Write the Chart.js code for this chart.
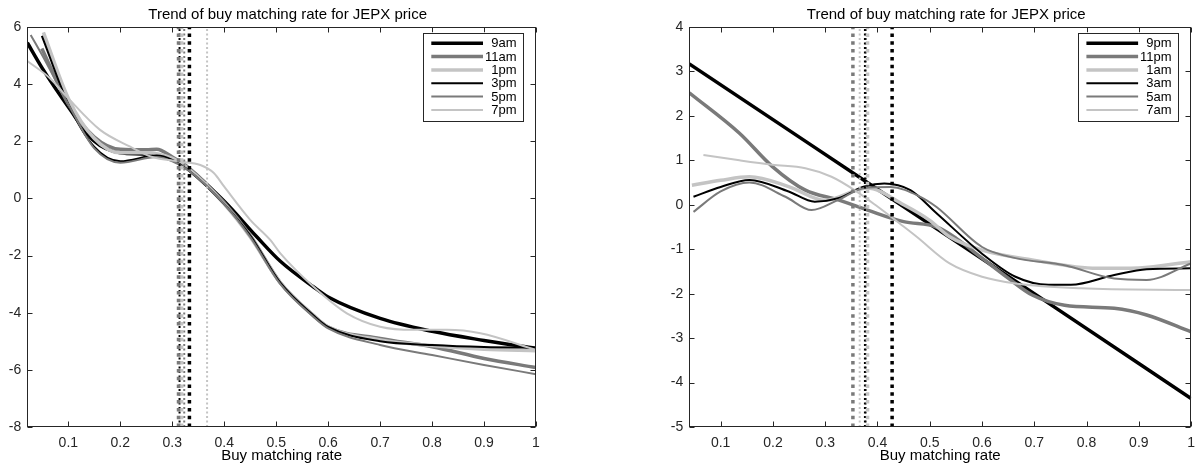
<!DOCTYPE html>
<html>
<head>
<meta charset="utf-8">
<script src="https://cdn.jsdelivr.net/npm/chart.js@4.4.1/dist/chart.umd.min.js"></script>
<style>
  html, body { margin: 0; padding: 0; background: #fff; }
  body { width: 1203px; height: 466px; position: relative; overflow: hidden; }
  .box { position: absolute; top: 0; height: 466px; }
  #leftBox { left: 0; width: 560px; }
  #rightBox { left: 620px; width: 583px; }
</style>
</head>
<body>
<div class="box" id="leftBox"><canvas id="dayChart"></canvas></div>
<div class="box" id="rightBox"><canvas id="nightChart"></canvas></div>
<script>
// text
const titleText = 'Trend of buy matching rate for JEPX price';
const xLabel = 'Buy matching rate';

// ticks
const xTicks = [0.1, 0.2, 0.3, 0.4, 0.5, 0.6, 0.7, 0.8, 0.9, 1];
const dayYTicks = [-8, -6, -4, -2, 0, 2, 4, 6];
const nightYTicks = [-5, -4, -3, -2, -1, 0, 1, 2, 3, 4];

// daytime hours (left panel), [matching rate, price trend]
const dayNames = ['9am', '11am', '1pm', '3pm', '5pm', '7pm'];
const day9am = [[0.021,5.45],[0.05,4.55],[0.1,3.2],[0.15,2.0],[0.2,1.6],[0.25,1.55],[0.3,1.35],[0.33,1.05],[0.4,-0.1],[0.463,-1.35],[0.508,-2.2],[0.572,-3.1],[0.6,-3.45],[0.7,-4.2],[0.8,-4.65],[0.9,-4.97],[1.0,-5.25]];
const day11am = [[0.049,5.25],[0.1,3.3],[0.15,2.15],[0.2,1.72],[0.25,1.7],[0.27,1.72],[0.3,1.45],[0.33,1.1],[0.4,-0.15],[0.45,-1.3],[0.508,-2.95],[0.572,-4.1],[0.6,-4.5],[0.7,-4.9],[0.8,-5.19],[0.9,-5.6],[1.0,-5.92]];
const day1pm = [[0.052,5.81],[0.1,3.5],[0.15,2.1],[0.2,1.6],[0.25,1.6],[0.3,1.4],[0.33,1.05],[0.4,-0.2],[0.45,-1.35],[0.508,-2.95],[0.572,-4.1],[0.6,-4.5],[0.7,-4.95],[0.8,-5.15],[0.9,-5.28],[1.0,-5.33]];
const day3pm = [[0.049,5.69],[0.1,3.3],[0.15,1.8],[0.2,1.3],[0.27,1.5],[0.3,1.35],[0.33,1.0],[0.4,-0.2],[0.45,-1.3],[0.508,-2.95],[0.572,-4.1],[0.6,-4.5],[0.7,-5.0],[0.8,-5.13],[0.9,-5.2],[1.0,-5.22]];
const day5pm = [[0.0275,5.72],[0.05,5.0],[0.1,3.3],[0.15,1.75],[0.2,1.25],[0.27,1.45],[0.3,1.3],[0.33,1.0],[0.4,-0.2],[0.45,-1.35],[0.508,-3.0],[0.572,-4.15],[0.6,-4.55],[0.7,-5.13],[0.8,-5.48],[0.9,-5.83],[1.0,-6.15]];
const day7pm = [[0.021,4.81],[0.065,4.2],[0.1,3.5],[0.161,2.4],[0.219,1.81],[0.26,1.46],[0.315,1.29],[0.354,1.17],[0.38,0.89],[0.4,0.41],[0.45,-0.75],[0.489,-1.46],[0.508,-1.92],[0.572,-3.09],[0.636,-4.02],[0.7,-4.49],[0.765,-4.6],[0.829,-4.6],[0.893,-4.72],[1.0,-5.3]];
const dayCross = [0.333, 0.312, 0.318, 0.314, 0.323, 0.367];

// night hours (right panel)
const nightNames = ['9pm', '11pm', '1am', '3am', '5am', '7am'];
const night9pm = [[0.04,3.17],[0.4,0.35],[0.7,-2.0],[1.0,-4.36]];
const night11pm = [[0.04,2.52],[0.136,1.61],[0.199,0.86],[0.262,0.33],[0.325,0.11],[0.381,-0.12],[0.45,-0.38],[0.513,-0.5],[0.55,-0.75],[0.6,-1.2],[0.65,-1.65],[0.696,-2.03],[0.758,-2.26],[0.853,-2.33],[0.915,-2.48],[1.0,-2.86]];
const night1am = [[0.045,0.44],[0.1,0.55],[0.155,0.63],[0.23,0.41],[0.3,0.1],[0.38,0.38],[0.45,0.0],[0.5,-0.35],[0.538,-0.72],[0.6,-1.02],[0.696,-1.24],[0.82,-1.43],[0.9,-1.42],[1.0,-1.28]];
const night3am = [[0.048,0.18],[0.1,0.4],[0.155,0.56],[0.23,0.3],[0.28,0.07],[0.325,0.15],[0.375,0.41],[0.413,0.48],[0.463,0.33],[0.513,-0.19],[0.6,-1.1],[0.664,-1.62],[0.727,-1.8],[0.77,-1.8],[0.853,-1.58],[0.915,-1.45],[1.0,-1.43]];
const night5am = [[0.048,-0.16],[0.1,0.3],[0.155,0.5],[0.224,0.18],[0.274,-0.12],[0.325,0.11],[0.375,0.38],[0.425,0.4],[0.482,0.18],[0.513,-0.05],[0.6,-0.95],[0.664,-1.2],[0.758,-1.36],[0.853,-1.66],[0.915,-1.69],[1.0,-1.32]];
const night7am = [[0.067,1.12],[0.136,1.0],[0.199,0.9],[0.262,0.82],[0.312,0.63],[0.356,0.33],[0.4,-0.04],[0.45,-0.49],[0.475,-0.72],[0.538,-1.32],[0.6,-1.62],[0.664,-1.77],[0.79,-1.88],[1.0,-1.92]];
const nightCross = [0.428, 0.353, 0.381, 0.376, 0.378, 0.366];

// line styles (one per hour slot)
const lineColors = ['#000000', '#7a7a7a', '#c4c4c4', '#000000', '#7a7a7a', '#c4c4c4'];
const lineWidths = [3.5, 3.5, 3.5, 2, 2, 2];

Chart.defaults.font.family = '"Liberation Sans", Arial, sans-serif';
Chart.defaults.font.size = 14;
Chart.defaults.color = '#262626';

// box, inward ticks, title and legend drawn the matlab way
const matlabFrame = {
  id: 'matlabFrame',
  afterDatasetsDraw(chart) {
    const { ctx, chartArea: a, scales } = chart;
    const L = Math.round(a.left) + 0.5, R = Math.round(a.right) - 0.5;
    const T = Math.round(a.top) + 0.5, B = Math.round(a.bottom) - 0.5;
    ctx.save();
    ctx.strokeStyle = '#262626';
    ctx.lineWidth = 1;
    ctx.strokeRect(L, T, R - L, B - T);
    ctx.beginPath();
    scales.x.ticks.forEach(t => {
      const px = Math.round(scales.x.getPixelForValue(t.value)) + 0.5;
      ctx.moveTo(px, B); ctx.lineTo(px, B - 5);
      ctx.moveTo(px, T); ctx.lineTo(px, T + 5);
    });
    scales.y.ticks.forEach(t => {
      const py = Math.round(scales.y.getPixelForValue(t.value)) + 0.5;
      ctx.moveTo(L, py); ctx.lineTo(L + 5, py);
      ctx.moveTo(R, py); ctx.lineTo(R - 5, py);
    });
    ctx.stroke();

    // title
    ctx.fillStyle = '#000';
    ctx.font = '15px "Liberation Sans", Arial, sans-serif';
    ctx.textAlign = 'center';
    ctx.textBaseline = 'middle';
    ctx.fillText(titleText, (a.left + a.right) / 2 + 6, 15);

    // legend
    const items = chart.data.datasets.filter(ds => !ds.isCross);
    const bw = 99.5, rowH = 13.35;
    const bx = a.right - 13.5 - bw, by = a.top + 5.5;
    const bh = 10.7 + rowH * (items.length - 1) + 10.4;
    ctx.fillStyle = '#fff';
    ctx.fillRect(bx, by, bw, bh);
    ctx.strokeStyle = '#262626';
    ctx.lineWidth = 1;
    ctx.strokeRect(Math.round(bx) + 0.5, Math.round(by) + 0.5, Math.round(bw), Math.round(bh));
    ctx.font = '13px "Liberation Sans", Arial, sans-serif';
    ctx.textAlign = 'right';
    items.forEach((ds, i) => {
      const cy = by + 10.7 + i * rowH;
      ctx.strokeStyle = ds.borderColor;
      ctx.lineWidth = ds.borderWidth;
      ctx.beginPath();
      ctx.moveTo(bx + 8.3, cy);
      ctx.lineTo(bx + 60, cy);
      ctx.stroke();
      ctx.fillStyle = '#000';
      ctx.fillText(ds.label, bx + bw - 6, cy + 0.5);
    });
    ctx.restore();
  }
};

function buildChart(canvasId, names, series, cross, yTicks, yMin, yMax, xMin, yAxisWidth, padRight) {
  const datasets = [];
  series.forEach((pts, i) => {
    datasets.push({
      label: names[i],
      data: pts.map(p => ({ x: p[0], y: p[1] })),
      borderColor: lineColors[i],
      borderWidth: lineWidths[i],
      pointRadius: 0,
      cubicInterpolationMode: 'monotone',
      order: 10 - i
    });
  });
  cross.forEach((cx, i) => {
    const w = lineWidths[i];
    datasets.push({
      label: names[i] + ' cross',
      isCross: true,
      data: [{ x: cx, y: yMin }, { x: cx, y: yMax }],
      borderColor: lineColors[i],
      borderWidth: w,
      borderDash: w > 3 ? [3.5, 4.3] : [2, 2.5],
      borderCapStyle: 'butt',
      pointRadius: 0,
      order: 0
    });
  });

  return new Chart(document.getElementById(canvasId), {
    type: 'line',
    data: { datasets },
    options: {
      responsive: true,
      maintainAspectRatio: false,
      animation: false,
      layout: { padding: { top: 27, right: padRight, bottom: 0, left: 0 } },
      plugins: { legend: { display: false }, tooltip: { enabled: false } },
      scales: {
        x: {
          type: 'linear',
          min: xMin,
          max: 1,
          afterBuildTicks: s => { s.ticks = xTicks.map(v => ({ value: v })); },
          afterFit: s => { s.height = 39; },
          grid: { display: false, drawTicks: false },
          border: { display: false },
          ticks: { padding: 8, callback: v => String(Number(v.toFixed(1))) },
          title: { display: true, text: xLabel, color: '#000', font: { size: 15 }, padding: { top: 0, bottom: 1 } }
        },
        y: {
          min: yMin,
          max: yMax,
          afterBuildTicks: s => { s.ticks = yTicks.map(v => ({ value: v })); },
          afterFit: s => { s.width = yAxisWidth; },
          grid: { display: false, drawTicks: false },
          border: { display: false },
          ticks: { padding: 6, callback: v => String(v) }
        }
      }
    },
    plugins: [matlabFrame]
  });
}

buildChart('dayChart', dayNames, [day9am, day11am, day1pm, day3pm, day5pm, day7pm], dayCross,
  dayYTicks, -8, 6, 0.021, 27.3, 24);
buildChart('nightChart', nightNames, [night9pm, night11pm, night1am, night3am, night5am, night7am], nightCross,
  nightYTicks, -5, 4, 0.04, 69.3, 4.7);
</script>
</body>
</html>
